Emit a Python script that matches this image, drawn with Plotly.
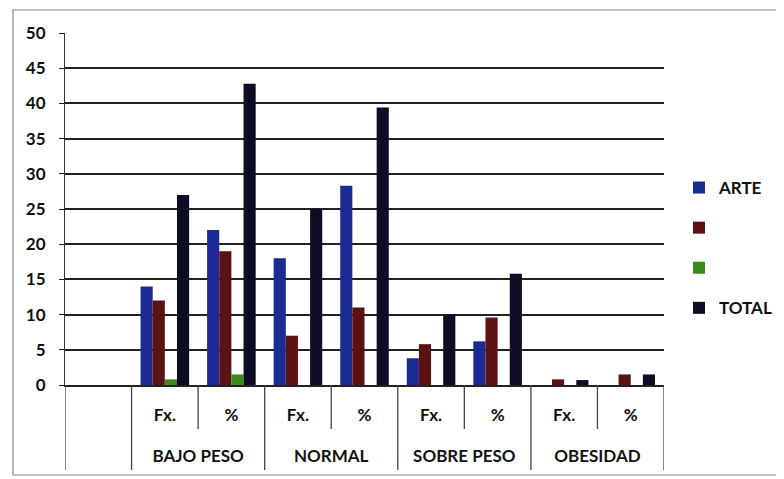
import plotly.graph_objects as go

groups = [" ", "BAJO PESO", "BAJO PESO", "NORMAL", "NORMAL", "SOBRE PESO", "SOBRE PESO", "OBESIDAD", "OBESIDAD"]
subs = [" ", "Fx.", "%", "Fx.", "%", "Fx.", "%", "Fx.", "%"]

arte = [None, 14, 22, 18, 28.3, 3.8, 6.2, 0, 0]
serie2 = [None, 12, 19, 7, 11, 5.8, 9.6, 0.8, 1.5]
serie3 = [None, 0.8, 1.5, 0, 0, 0, 0, 0, 0]
total = [None, 27, 42.8, 25, 39.4, 10, 15.8, 0.7, 1.5]

series_names = ["ARTE", " ", "  ", "TOTAL"]
colors = ["#1c2b93", "#5b1212", "#3c8c1c", "#0d0d26"]

cat_ids = [f"{g}|{s}|{i}" for i, (g, s) in enumerate(zip(groups, subs))]
n = len(cat_ids)

# group spans (index ranges) derived from the group list
spans = []
for i, g in enumerate(groups):
    if spans and spans[-1][0] == g:
        spans[-1][2] = i
    else:
        spans.append([g, i, i])
group_centers = [(a + b) / 2 for _, a, b in spans]
group_names = [g for g, _, _ in spans]
group_bounds = sorted(set([a - 0.5 for _, a, _ in spans] + [b + 0.5 for _, _, b in spans]))
sub_bounds = [i + 0.5 for i in range(n - 1) if groups[i] == groups[i + 1]]

fnt = dict(family="Lato", size=17, color="#111111", weight="bold")

# page body has an 8px default margin; figure sized so the plot sits where the reference has it
W, H = 776, 471
ML, MR, MT, MB = 57, 120, 25, 94
PW, PH = W - ML - MR, H - MT - MB
OX, OY = 8 + ML, 8 + MT + PH  # page position of plot origin

fig = go.Figure()
for k, (name, vals, col) in enumerate(zip(series_names, [arte, serie2, serie3, total], colors)):
    fig.add_trace(go.Bar(x=cat_ids, y=vals, name=name, marker_color=col,
                         marker_line_width=0, legendgroup=f"g{k}"))
fig.add_trace(go.Scatter(x=group_centers, y=[None] * len(group_centers), xaxis="x2",
                         showlegend=False, hoverinfo="skip"))

fig.update_layout(
    width=W, height=H,
    margin=dict(l=ML, r=MR, t=MT, b=MB, autoexpand=False),
    paper_bgcolor="white", plot_bgcolor="white",
    barmode="group", bargap=0.27, bargroupgap=0,
    font=fnt,
    showlegend=True,
    legend=dict(x=(679 - OX) / PW, y=(OY - 248) / PH, xanchor="left", yanchor="middle",
                font=fnt, tracegroupgap=15, itemwidth=30, traceorder="grouped"),
    xaxis=dict(type="category", categoryarray=cat_ids, categoryorder="array",
               range=[-0.5, n - 0.5], automargin=False,
               showline=True, linecolor="#222", linewidth=1.5,
               tickmode="array", tickvals=cat_ids, ticktext=subs,
               ticks="", tickfont=fnt, ticklabelstandoff=14, showgrid=False),
    xaxis2=dict(overlaying="x", anchor="y", side="bottom", type="linear",
                range=[-0.5, n - 0.5], automargin=False, showline=False,
                showgrid=False, zeroline=False, tickmode="array",
                tickvals=group_centers, ticktext=group_names, ticks="",
                tickfont=fnt, ticklabelstandoff=59),
    yaxis=dict(range=[0, 50], dtick=5, showgrid=True, gridcolor="#222", gridwidth=1.5,
               showline=True, linecolor="#333", linewidth=1.2, ticks="outside",
               ticklen=5, tickcolor="#222", tickfont=fnt, ticklabelstandoff=10,
               zeroline=False, automargin=False),
)

for b in group_bounds:
    fig.add_shape(type="line", xref="x2", yref="paper", x0=b, x1=b, y0=0, y1=-85 / PH,
                  line=dict(color="#444", width=1.3))
for b in sub_bounds:
    fig.add_shape(type="line", xref="x2", yref="paper", x0=b, x1=b, y0=0, y1=-44 / PH,
                  line=dict(color="#444", width=1.3))

fig.add_shape(type="rect", xref="paper", yref="paper",
              x0=(13 - OX) / PW, x1=(780 - OX) / PW, y0=-(475 - OY) / PH, y1=(OY - 10) / PH,
              line=dict(color="#888", width=1.2), fillcolor="rgba(0,0,0,0)")

fig.write_html("out.html")
